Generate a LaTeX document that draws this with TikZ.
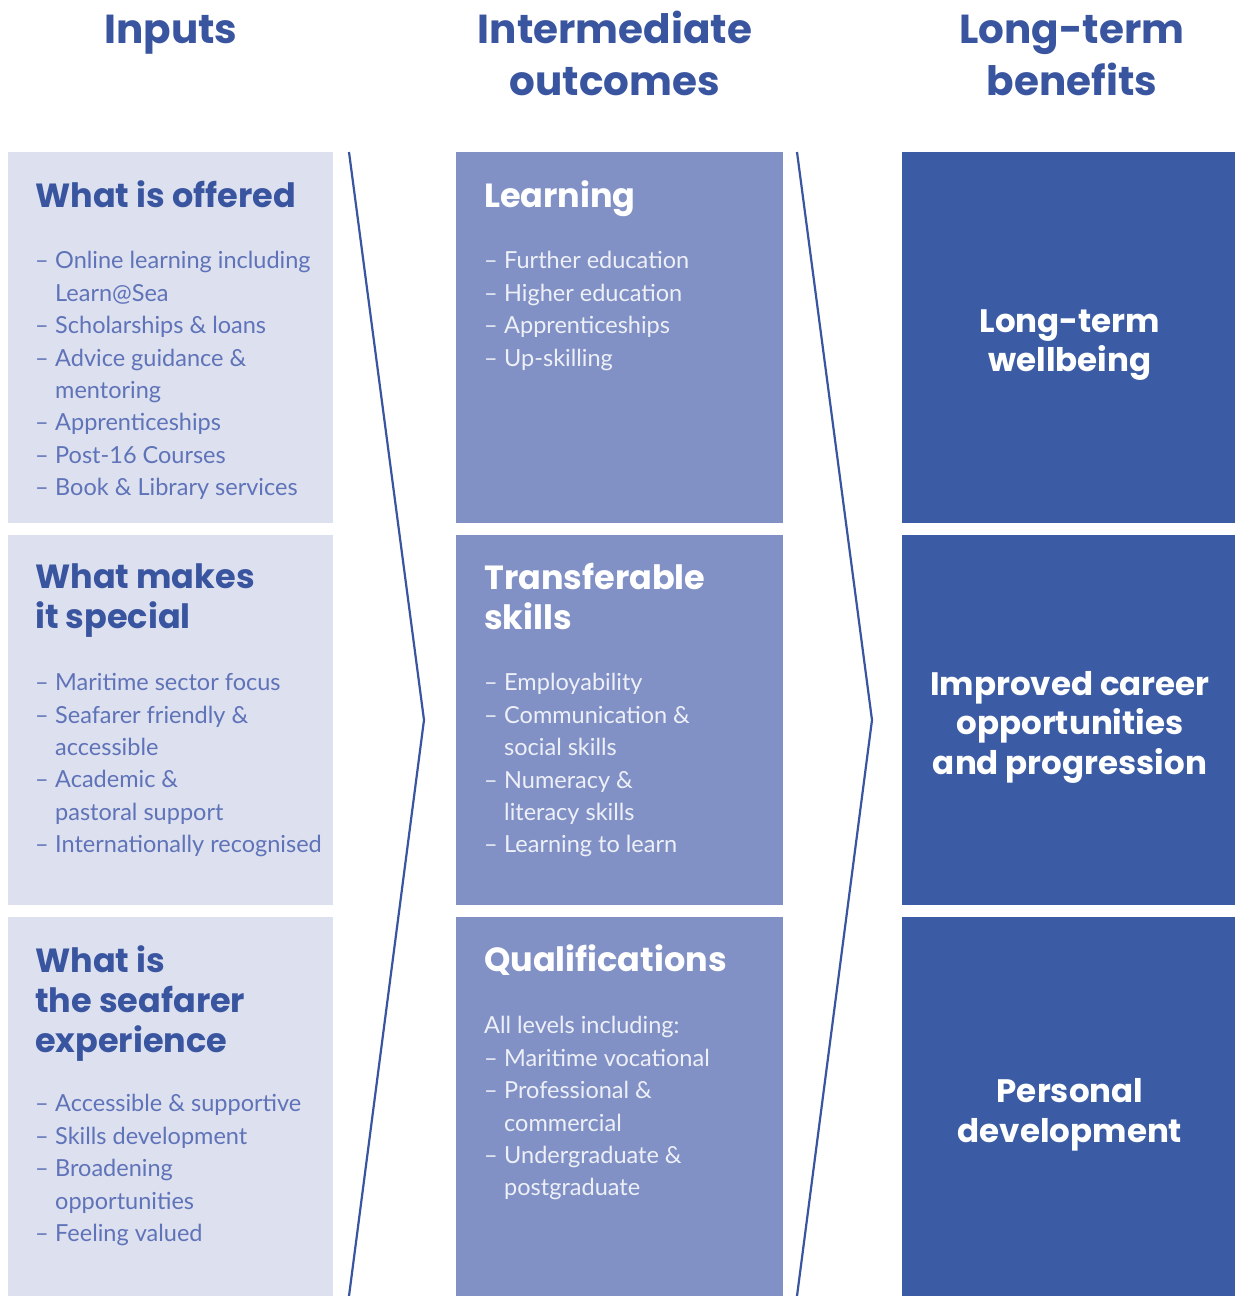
\documentclass[tikz,border=0pt]{standalone}
\usepackage{fontspec}
\setmainfont{Lato}
\newfontfamily\hfont{Poppins}
\definecolor{cOneBg}{HTML}{DDE0EF}
\definecolor{cTwoBg}{HTML}{8191C5}
\definecolor{cThreeBg}{HTML}{3B5CA4}
\definecolor{hBlue}{HTML}{3A55A0}
\definecolor{iBlue}{HTML}{5F73B8}
\definecolor{iWhite}{HTML}{EEF0F8}
\newcommand{\itm}[1]{\makebox[20pt][l]{–}#1}
\newcommand{\cnt}[1]{\hspace*{20pt}#1}
\begin{document}
\begin{tikzpicture}[x=1pt,y=-1pt,
  title/.style={font=\hfont\bfseries\fontsize{40.5}{52}\selectfont,text=hBlue,align=center,inner sep=0pt,anchor=base},
  headA/.style={font=\hfont\bfseries\fontsize{33.5}{40}\selectfont,text=hBlue,align=left,inner sep=0pt,anchor=north west,execute at begin node=\strut},
  headB/.style={headA,text=white},
  headC/.style={font=\hfont\bfseries\fontsize{32.5}{39.5}\selectfont,text=white,align=center,inner sep=0pt},
  listA/.style={font=\fontsize{23.5}{32.4}\selectfont,text=iBlue,align=left,inner sep=0pt,anchor=north west,execute at begin node=\strut},
  listB/.style={listA,text=iWhite},
  chev/.style={draw=hBlue,line width=2.2pt}
]
\useasboundingbox (0,0) rectangle (1235,1296);
\fill[white] (0,0) rectangle (1235,1296);
% boxes
\fill[cOneBg] (8,152) rectangle (333,523);
\fill[cOneBg] (8,535) rectangle (333,905);
\fill[cOneBg] (8,917) rectangle (333,1296);
\fill[cTwoBg] (456,152) rectangle (783,523);
\fill[cTwoBg] (456,535) rectangle (783,905);
\fill[cTwoBg] (456,917) rectangle (783,1296);
\fill[cThreeBg] (902,152) rectangle (1235,523);
\fill[cThreeBg] (902,535) rectangle (1235,905);
\fill[cThreeBg] (902,917) rectangle (1235,1296);
% chevrons
\coordinate (c1t) at (349,152); \coordinate (c1m) at (424,720); \coordinate (c1b) at (349,1296);
\coordinate (c2t) at (797,152); \coordinate (c2m) at (872,720); \coordinate (c2b) at (797,1296);
\draw[chev] (c1t) -- (c1m) -- (c1b);
\draw[chev] (c2t) -- (c2m) -- (c2b);
% titles
\node[title] (tIn) at (171,43) {Inputs};
\node[title] (tMid) at (615,95) {Intermediate\\outcomes};
\node[title] (tLong) at (1072,95) {Long-term\\benefits};
% column 1
\node[headA] (h11) at (35,179) {What is offered};
\node[listA] (l11) at (35,251.3) {\itm{Online learning including}\\\cnt{Learn@Sea}\\\itm{Scholarships \& loans}\\\itm{Advice guidance \&}\\\cnt{mentoring}\\\itm{Apprenticeships}\\\itm{Post-16 Courses}\\\itm{Book \& Library services}};
\node[headA] (h12) at (35,564) {What makes\\it special};
\node[listA] (l12) at (35,673.3) {\itm{Maritime sector focus}\\\itm{Seafarer friendly \&}\\\cnt{accessible}\\\itm{Academic \&}\\\cnt{pastoral support}\\\itm{Internationally recognised}};
\node[headA] (h13) at (35,945) {What is\\the seafarer\\experience};
\node[listA] (l13) at (35,1094.3) {\itm{Accessible \& supportive}\\\itm{Skills development}\\\itm{Broadening}\\\cnt{opportunities}\\\itm{Feeling valued}};
% column 2
\node[headB] (h21) at (484,179) {Learning};
\node[listB] (l21) at (484,251.3) {\itm{Further education}\\\itm{Higher education}\\\itm{Apprenticeships}\\\itm{Up-skilling}};
\node[headB] (h22) at (484,563) {Transferable\\skills};
\node[listB] (l22) at (484,673.3) {\itm{Employability}\\\itm{Communication \&}\\\cnt{social skills}\\\itm{Numeracy \&}\\\cnt{literacy skills}\\\itm{Learning to learn}};
\node[headB] (h23) at (484,943) {Qualifications};
\node[listB] (l23) at (484,1016.3) {All levels including:\\\itm{Maritime vocational}\\\itm{Professional \&}\\\cnt{commercial}\\\itm{Undergraduate \&}\\\cnt{postgraduate}};
% column 3
\node[headC] (h31) at (1070,345) {Long-term\\wellbeing};
\node[headC] (h32) at (1070,727) {Improved career\\opportunities\\and progression};
\node[headC] (h33) at (1070,1115) {Personal\\development};
\end{tikzpicture}
\end{document}
